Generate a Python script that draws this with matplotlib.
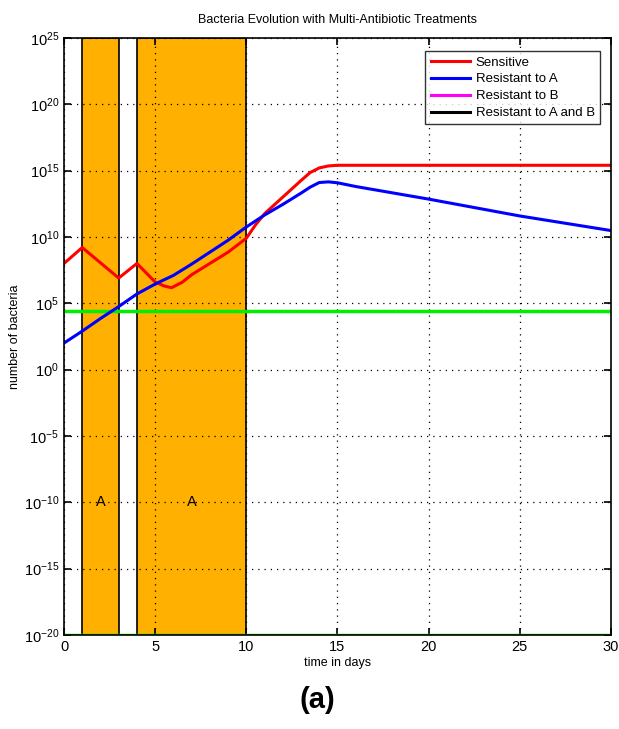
import matplotlib.pyplot as plt
import numpy as np
from matplotlib.lines import Line2D

plt.rcParams['font.family'] = ['Liberation Sans', 'DejaVu Sans']
plt.rcParams['axes.unicode_minus'] = False

# time (days) and log10 of bacteria counts
t_sens = [0, 1, 3, 4, 5, 5.5, 5.9, 6.5, 7, 8, 9, 10, 10.5, 11, 12, 13, 13.5, 14, 14.5, 15, 16, 20, 25, 30]
log_sens = [8.0, 9.2, 6.9, 8.0, 6.6, 6.3, 6.17, 6.6, 7.15, 8.0, 8.85, 9.9, 10.9, 11.75, 13.0, 14.25, 14.85, 15.2, 15.35, 15.4, 15.4, 15.4, 15.4, 15.4]

t_resA = [0, 1, 2, 3, 4, 5, 6, 7, 8, 9, 10, 11, 12, 13, 13.5, 14, 14.5, 15, 16, 20, 25, 30]
log_resA = [2.0, 2.9, 3.85, 4.75, 5.7, 6.45, 7.1, 7.95, 8.85, 9.75, 10.75, 11.65, 12.45, 13.3, 13.75, 14.1, 14.15, 14.08, 13.8, 12.85, 11.58, 10.48]

threshold = 2.6e4
floor_level = 1e-20

# treatment periods with antibiotic A
treatments = [(1, 3, 'A'), (4, 10, 'A')]

legend_labels = ['Sensitive', 'Resistant to A', 'Resistant to B', 'Resistant to A and B']
legend_colors = ['#ff0000', '#0000ff', '#ff00ff', '#000000']

fig = plt.figure(figsize=(6.19, 7.29), dpi=100)
ax = fig.add_axes([0.1034, 0.129, 0.8836, 0.819])

for start, end, name in treatments:
    ax.axvspan(start, end, facecolor='#ffb000', edgecolor='black', linewidth=1.2, zorder=1)
    ax.text((start + end) / 2, 1e-10, name, ha='center', va='center', fontsize=10.5, zorder=5)

ax.axhline(threshold, color='#00ee00', linewidth=2.5, zorder=3)
ax.axhline(floor_level, color='#00ee00', linewidth=2.5, zorder=3)

ax.plot(t_sens, 10 ** np.array(log_sens), color='#ff0000', linewidth=2.2, zorder=4)
ax.plot(t_resA, 10 ** np.array(log_resA), color='#0000ff', linewidth=2.2, zorder=4)

ax.set_yscale('log')
ax.set_xlim(0, 30)
ax.set_ylim(1e-20, 1e25)
ax.set_xticks([0, 5, 10, 15, 20, 25, 30])
ax.set_yticks([10.0 ** e for e in range(-20, 26, 5)])
ax.minorticks_off()
ax.tick_params(direction='in', top=True, right=True, labelsize=10.5, length=5, width=1.2)
ax.grid(True, linestyle=(0, (1, 4)), color='black', linewidth=0.9, zorder=2)
ax.set_axisbelow(False)
for s in ax.spines.values():
    s.set_linewidth(1.2)
    s.set_zorder(6)

ax.set_title('Bacteria Evolution with Multi-Antibiotic Treatments', fontsize=9, pad=11)
ax.set_xlabel('time in days', fontsize=9, labelpad=2)
ax.set_ylabel('number of bacteria', fontsize=9, labelpad=2)

handles = [Line2D([], [], color=c, linewidth=2.2) for c in legend_colors]
leg = ax.legend(handles, legend_labels, loc='upper right', bbox_to_anchor=(0.98, 0.978),
                fontsize=9.5, frameon=True, fancybox=False, handlelength=3.0,
                borderpad=0.4, labelspacing=0.35, handletextpad=0.4, borderaxespad=0)
leg.get_frame().set_edgecolor('black')
leg.get_frame().set_linewidth(1.0)
leg.set_zorder(10)

fig.text(0.513, 0.02, '(a)', ha='center', va='bottom', fontsize=21, fontweight='bold',
         family=['Liberation Sans', 'DejaVu Sans'])

fig.savefig('out.png', dpi=100)
